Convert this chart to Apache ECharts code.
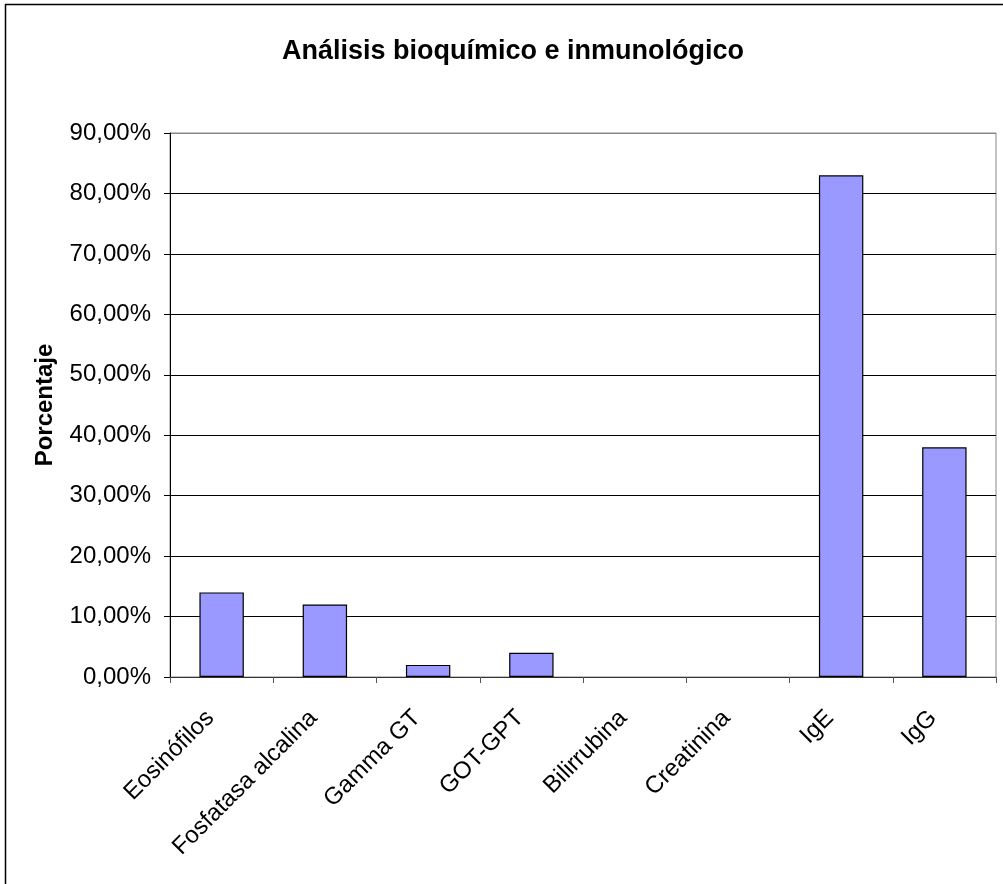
<!DOCTYPE html>
<html>
<head>
<meta charset="utf-8">
<script src="https://cdn.jsdelivr.net/npm/echarts@6/dist/echarts.min.js"></script>
<style>
html,body{margin:0;padding:0;background:#fff;}
#chart{width:1003px;height:884px;}
</style>
</head>
<body>
<div id="chart"></div>
<script>
const categories = ["Eosinófilos", "Fosfatasa alcalina", "Gamma GT", "GOT-GPT", "Bilirrubina", "Creatinina", "IgE", "IgG"];
const values = [14, 12, 2, 4, 0, 0, 83, 38];
const yTicks = [0, 10, 20, 30, 40, 50, 60, 70, 80, 90];
const titleText = "Análisis bioquímico e inmunológico";
const yAxisTitle = "Porcentaje";

const chart = echarts.init(document.getElementById('chart'), null, {renderer: 'canvas'});
const font = '"Liberation Sans", Arial, sans-serif';
const gridColors = yTicks.map((v, i) => i === yTicks.length - 1 ? '#888888' : '#000000');
const barData = values.map(v => v === 0 ? {value: v, itemStyle: {borderWidth: 0}} : v);

chart.setOption({
  backgroundColor: '#ffffff',
  animation: false,
  title: {
    text: titleText,
    left: 277,
    top: 33,
    textStyle: {fontFamily: font, fontSize: 27, fontWeight: 'bold', color: '#000'}
  },
  graphic: [{
    type: 'rect',
    shape: {x: 5.5, y: 4.5, width: 1100, height: 1000},
    style: {fill: 'none', stroke: '#000', lineWidth: 1.5},
    silent: true,
    z: 100
  }],
  grid: {
    left: 170, right: 7, top: 133, bottom: 207,
    show: true, borderColor: '#888888', borderWidth: 1, backgroundColor: 'transparent'
  },
  xAxis: {
    type: 'category',
    data: categories,
    axisLine: {show: true, lineStyle: {color: '#333', width: 1}},
    axisTick: {show: true, length: 6, lineStyle: {color: '#555'}},
    axisLabel: {
      rotate: 45, margin: 26, interval: 0, padding: [0, 16, 0, 0],
      fontFamily: font, fontSize: 24, color: '#000'
    },
    splitLine: {show: false}
  },
  yAxis: {
    type: 'value',
    min: 0, max: 90, interval: 10,
    name: yAxisTitle,
    nameLocation: 'middle',
    nameGap: 113,
    nameRotate: 90,
    nameTextStyle: {fontFamily: font, fontSize: 24, fontWeight: 'bold', color: '#000'},
    axisLine: {show: true, lineStyle: {color: '#000', width: 1}},
    axisTick: {show: true, inside: false, length: 6, lineStyle: {color: '#000'}},
    axisLabel: {
      margin: 19, fontFamily: font, fontSize: 24, color: '#000',
      formatter: v => v.toFixed(2).replace('.', ',') + '%'
    },
    splitLine: {show: true, lineStyle: {color: gridColors, width: 1}}
  },
  series: [{
    type: 'bar',
    data: barData,
    barWidth: '43%',
    itemStyle: {color: '#9999FF', borderColor: '#000', borderWidth: 1.2}
  }]
});
</script>
</body>
</html>
